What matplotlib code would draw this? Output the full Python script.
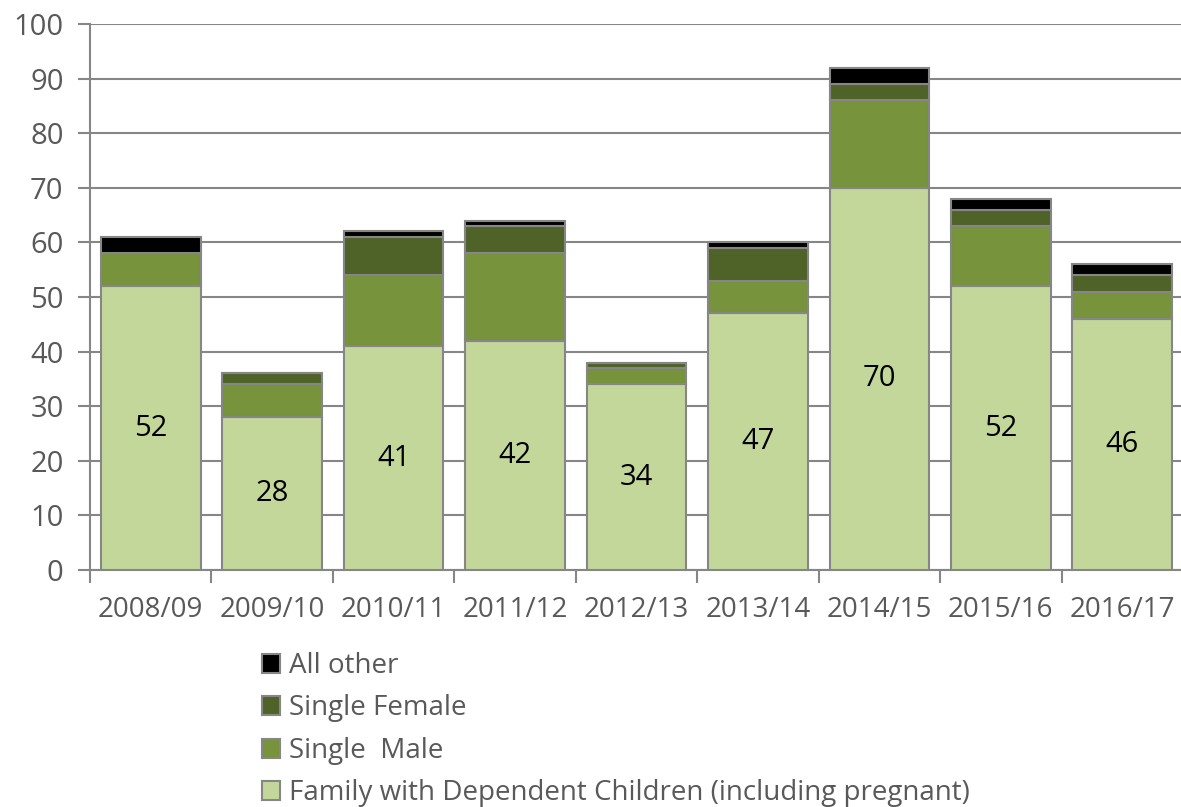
import numpy as np
import matplotlib.pyplot as plt
from matplotlib.patches import Patch

plt.rcParams['font.family'] = ['Open Sans', 'DejaVu Sans']

years = ['2008/09', '2009/10', '2010/11', '2011/12', '2012/13',
         '2013/14', '2014/15', '2015/16', '2016/17']
family = [52, 28, 41, 42, 34, 47, 70, 52, 46]
single_male = [6, 6, 13, 16, 3, 6, 16, 11, 5]
single_female = [0, 2, 7, 5, 1, 6, 3, 3, 3]
all_other = [3, 0, 1, 1, 0, 1, 3, 2, 2]

names = ['Family with Dependent Children (including pregnant)',
         'Single  Male', 'Single Female', 'All other']
colors = ['#c4d79b', '#77933c', '#4f6228', '#000000']
series = [family, single_male, single_female, all_other]

grey = '#868686'
txt = '#595959'
fs = 20

fig = plt.figure(figsize=(11.81, 8.07), dpi=100)
ax = fig.add_axes([90/1181, 237/807, 1093/1181, 546/807])

x = np.arange(len(years))
bottom = np.zeros(len(years))
for vals, c in zip(series, colors):
    vals = np.array(vals, dtype=float)
    ax.bar(x, vals, 0.82, bottom=bottom, color=c, edgecolor=grey,
           linewidth=1.5, zorder=3)
    bottom += vals

# labels on the family segment
for xi, v in zip(x, family):
    ax.text(xi, v / 2, str(v), ha='center', va='center', fontsize=21,
            color='black', zorder=4)

ax.set_xlim(-0.5, len(years) - 0.5)
ax.set_ylim(0, 100)
ax.set_yticks(np.arange(0, 101, 10))
ax.yaxis.grid(True, color=grey, linewidth=1.5, zorder=0)
ax.set_axisbelow(True)

for s in ['top', 'right']:
    ax.spines[s].set_visible(False)
for s in ['left', 'bottom']:
    ax.spines[s].set_color(grey)
    ax.spines[s].set_linewidth(1.5)

ax.set_xticks(x)
ax.set_xticklabels(years)
ax.set_xticks(np.arange(-0.5, len(years)), minor=True)
ax.tick_params(axis='x', which='major', length=0, pad=19, labelsize=fs,
               labelcolor=txt)
ax.tick_params(axis='x', which='minor', length=9, width=1.5, color=grey)
ax.tick_params(axis='y', length=9, width=1.5, color=grey, labelsize=21,
               labelcolor=txt, pad=10)

handles = [Patch(facecolor=c, edgecolor=grey, linewidth=1.5, label=n)
           for c, n in zip(colors, names)][::-1]
fig.legend(handles=handles, loc='upper left', bbox_to_anchor=(262/1181, 1 - 652/807),
           frameon=False, fontsize=fs, labelcolor=txt, handlelength=0.66,
           handleheight=0.66, handletextpad=0.3, labelspacing=0.52,
           borderaxespad=0, borderpad=0)

plt.savefig('out.png', dpi=100)
